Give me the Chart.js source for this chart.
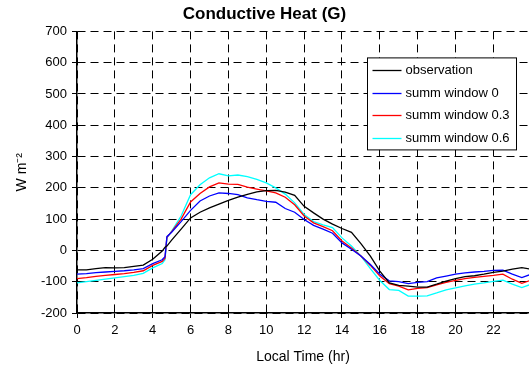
<!DOCTYPE html>
<html>
<head>
<meta charset="utf-8">
<script src="https://cdn.jsdelivr.net/npm/chart.js@4.4.1/dist/chart.umd.min.js"></script>
<style>
  html, body { margin: 0; padding: 0; background: #ffffff; }
</style>
</head>
<body>
<canvas id="heatChart" width="529" height="370"></canvas>
<script>
// Local time (hr), half-hourly, with the short step around the jump near 4.7 h
const hours = [0, 0.5, 1, 1.5, 2, 2.5, 3, 3.5, 4, 4.5, 4.65, 4.75,
    5, 5.5, 6, 6.5, 7, 7.5, 8, 8.5, 9, 9.5, 10, 10.5, 11, 11.5, 12, 12.5, 13, 13.5,
    14, 14.5, 15, 15.5, 16, 16.5, 17, 17.5, 18, 18.5, 19, 19.5, 20, 20.5, 21, 21.5,
    22, 22.5, 23, 23.5, 24];

// Conductive heat flux G (W m-2)
const observation = [-62, -62, -58, -55, -56, -55, -51, -47, -28, -2, 10, 14,
    33, 68, 104, 122, 136, 148, 160, 170, 179, 187, 191, 192, 186, 176, 141, 120, 100, 84,
    70, 58, 22, -18, -66, -104, -112, -114, -117, -117, -108, -98, -90, -84, -81, -76,
    -70, -66, -60, -55, -60];
const window0 = [-76, -74, -71, -69, -67, -65, -62, -58, -42, -30, -20, 44,
    58, 92, 128, 158, 174, 184, 182, 178, 168, 162, 157, 154, 134, 122, 99, 80, 68, 55,
    24, 4, -18, -45, -76, -97, -100, -106, -102, -100, -88, -82, -76, -72, -69, -67,
    -64, -63, -76, -87, -76];
const window03 = [-90, -87, -83, -80, -77, -74, -70, -65, -48, -35, -25, 42,
    60, 100, 155, 182, 203, 216, 212, 211, 202, 196, 190, 184, 170, 146, 110, 88, 76, 63,
    30, 8, -18, -48, -82, -106, -114, -126, -121, -119, -110, -102, -96, -90, -86, -83,
    -80, -76, -92, -105, -95];
const window06 = [-104, -100, -96, -92, -88, -84, -80, -73, -56, -42, -30, 40,
    62, 110, 178, 210, 232, 245, 238, 241, 236, 227, 216, 200, 180, 152, 115, 92, 82, 73,
    40, 14, -18, -58, -96, -125, -128, -146, -146, -145, -136, -126, -120, -113, -108, -104,
    -99, -95, -108, -119, -108];

const seriesNames = ['observation', 'summ window 0', 'summ window 0.3', 'summ window 0.6'];
const seriesColors = ['#000000', '#0000ff', '#ff0000', '#00ffff'];
const seriesValues = [observation, window0, window03, window06];

Chart.defaults.font.family = "'Liberation Sans', Arial, sans-serif";
Chart.defaults.color = '#000';

// Boxed legend inside the plot, top right
const boxLegend = {
    id: 'boxLegend',
    afterDatasetsDraw(chart) {
        const ctx = chart.ctx;
        const area = chart.chartArea;
        const left = area.right - 161.5;
        const top = area.top + 26.5;
        const w = 149, h = 92;
        ctx.save();
        ctx.fillStyle = '#fff';
        ctx.fillRect(left, top, w, h);
        ctx.strokeStyle = '#000';
        ctx.lineWidth = 1;
        ctx.strokeRect(left, top, w, h);
        ctx.font = "13px 'Liberation Sans', Arial, sans-serif";
        ctx.textBaseline = 'middle';
        chart.data.datasets.forEach((ds, i) => {
            const y = Math.round(top + 12 + i * 22.7) + 0.5;
            ctx.strokeStyle = ds.borderColor;
            ctx.lineWidth = 1.3;
            ctx.beginPath();
            ctx.moveTo(left + 5, y);
            ctx.lineTo(left + 34, y);
            ctx.stroke();
            ctx.fillStyle = '#000';
            ctx.fillText(ds.label, left + 38, y);
        });
        ctx.restore();
    }
};

const ctx = document.getElementById('heatChart').getContext('2d');

new Chart(ctx, {
    type: 'line',
    data: {
        datasets: seriesNames.map((name, i) => ({
            label: name,
            data: hours.map((t, j) => ({ x: t, y: seriesValues[i][j] })),
            borderColor: seriesColors[i],
            backgroundColor: seriesColors[i],
            borderWidth: 1.3,
            pointRadius: 0,
            tension: 0,
            fill: false
        }))
    },
    options: {
        responsive: false,
        animation: false,
        layout: { padding: { left: 0, right: 0, top: 0, bottom: 0 } },
        plugins: {
            legend: { display: false },
            tooltip: { enabled: false },
            title: {
                display: true,
                text: 'Conductive Heat (G)',
                font: { size: 17, weight: 'bold' },
                color: '#000',
                padding: { top: 4, bottom: 7 }
            }
        },
        scales: {
            x: {
                type: 'linear',
                min: 0,
                max: 23.88,
                ticks: { stepSize: 2, includeBounds: false, padding: 5, font: { size: 13 }, color: '#000' },
                grid: { color: '#000', lineWidth: 1, tickLength: 5 },
                border: { color: '#000', width: 1.5, dash: [8, 5] },
                title: { display: true, text: 'Local Time (hr)', font: { size: 14 }, color: '#000', padding: { top: 4, bottom: 4 } },
                afterFit(scale) { scale.height = 57; }
            },
            y: {
                min: -200,
                max: 700,
                ticks: { stepSize: 100, padding: 5, font: { size: 13 }, color: '#000' },
                grid: { color: '#000', lineWidth: 1, tickLength: 5 },
                border: { color: '#000', width: 1.5, dash: [8, 5] },
                title: { display: true, text: 'W m⁻²', font: { size: 14 }, color: '#000', padding: { top: 14, bottom: 0 } },
                afterFit(scale) { scale.width = 77; }
            }
        }
    },
    plugins: [boxLegend]
});
</script>
</body>
</html>
